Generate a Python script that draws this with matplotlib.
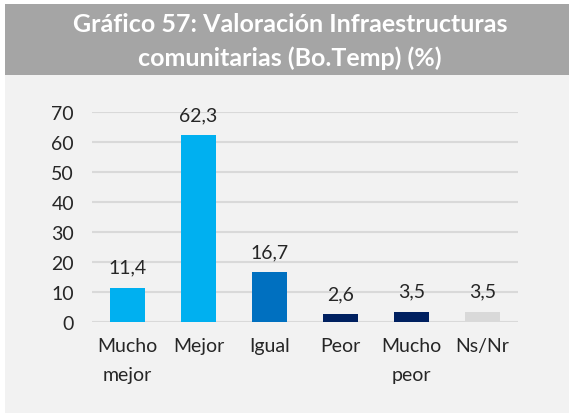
import numpy as np
import matplotlib.pyplot as plt
from matplotlib.patches import Rectangle

# categories and percentages
categorias = ['Mucho\nmejor', 'Mejor', 'Igual', 'Peor', 'Mucho\npeor', 'Ns/Nr']
valores = [11.4, 62.3, 16.7, 2.6, 3.5, 3.5]
colores = ['#00B0F0', '#00B0F0', '#0070C0', '#002060', '#002060', '#D9D9D9']
ticks_y = [0, 10, 20, 30, 40, 50, 60, 70]

plt.rcParams['font.family'] = ['Lato', 'DejaVu Sans']

W, H = 569, 414
fig = plt.figure(figsize=(W / 100, H / 100), dpi=100)
fig.patch.set_facecolor('white')

# light panel and grey title band
fig.patches.append(Rectangle((5 / W, 0), 1 - 5 / W, 1 - 5 / H, transform=fig.transFigure,
                             facecolor='#F2F2F2', edgecolor='none', zorder=-2))
fig.patches.append(Rectangle((5 / W, 1 - 76 / H), 1 - 5 / W, 71 / H, transform=fig.transFigure,
                             facecolor='#A5A5A5', edgecolor='none', zorder=-1))
fig.text(290 / W, 1 - 24 / H, 'Gráfico 57: Valoración Infraestructuras', ha='center', va='center',
         color='white', fontsize=18, fontweight='bold')
fig.text(290 / W, 1 - 58 / H, 'comunitarias (Bo.Temp) (%)', ha='center', va='center',
         color='white', fontsize=18, fontweight='bold')

# plot area: x 92..518 px, y 0 at 323 px, 70 at 113 px
ax = fig.add_axes([92 / W, 1 - 323 / H, 426 / W, 210 / H])
ax.set_zorder(5)
ax.set_facecolor('none')
x = np.arange(len(categorias))
ax.bar(x, valores, width=0.5, color=colores, zorder=3)
for xi, v in zip(x, valores):
    ax.text(xi, v + 4.0, f'{v:.1f}'.replace('.', ','), ha='center', va='bottom',
            fontsize=14, color='#262626')

ax.set_xlim(-0.5, len(categorias) - 0.5)
ax.set_ylim(0, 70)
ax.set_yticks(ticks_y)
ax.set_xticks(x)
ax.set_xticklabels(categorias, fontsize=14, color='#262626', linespacing=1.85)
ax.tick_params(axis='y', labelsize=14, labelcolor='#262626', length=0, pad=13)
ax.tick_params(axis='x', length=0, pad=11)
ax.grid(axis='y', color='#D9D9D9', linewidth=1.5, zorder=0)
for s in ax.spines.values():
    s.set_visible(False)

fig.savefig('out.png', dpi=100)
